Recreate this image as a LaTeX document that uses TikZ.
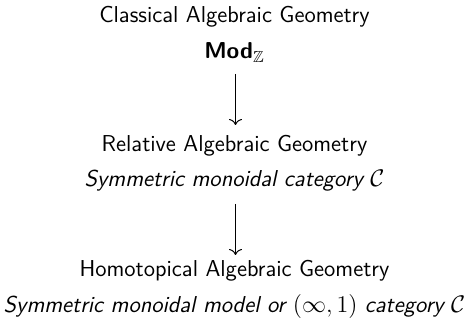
\documentclass[tikz,border=0pt]{standalone}
\usepackage{amssymb}
\usetikzlibrary{arrows.meta}
\renewcommand{\familydefault}{\sfdefault}
\begin{document}
\begin{tikzpicture}[x=0.5pt,y=-0.5pt,
  lbl/.style={inner sep=0pt,anchor=base,font=\fontsize{11.5}{14}\selectfont\sffamily},
  arr/.style={-{To[length=3pt,width=6.5pt]},line width=0.5pt}]
\useasboundingbox (0,0) rectangle (468,325);
\node[lbl] (cag) at (234.5,23) {Classical Algebraic Geometry};
\node[lbl] (modz) at (234.5,58.5) {\textbf{Mod}$_{\mathbb{Z}}$};
\node[lbl] (rag) at (234.5,151.5) {Relative Algebraic Geometry};
\node[lbl] (smc) at (234.5,186.5) {\itshape Symmetric monoidal category $\mathcal{C}$};
\node[lbl] (hag) at (234.5,277) {Homotopical Algebraic Geometry};
\node[lbl] (smm) at (234.5,313) {\itshape Symmetric monoidal model or $(\infty,1)$ category $\mathcal{C}$};
\coordinate (a1s) at (235.5,74);
\coordinate (a1e) at (235.5,125);
\coordinate (a2s) at (235.5,204);
\coordinate (a2e) at (235.5,255);
\draw[arr] (a1s) -- (a1e);
\draw[arr] (a2s) -- (a2e);
\end{tikzpicture}
\end{document}
